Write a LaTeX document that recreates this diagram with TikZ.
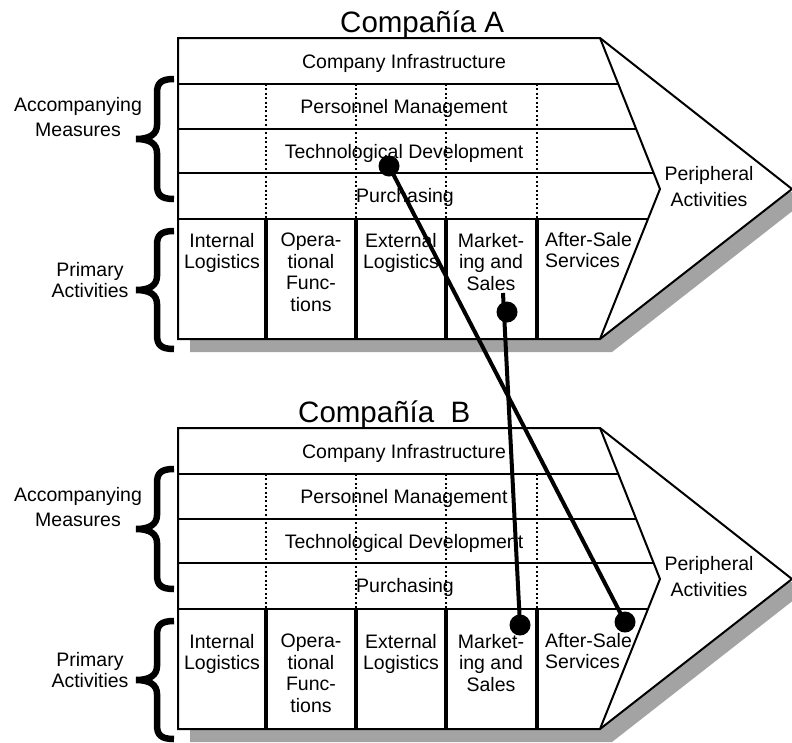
\documentclass[tikz,border=0pt]{standalone}
\usepackage{fontspec}
\setmainfont{Liberation Sans}
\definecolor{shadowgray}{gray}{0.64}
\tikzset{
  box/.style={line width=2pt},
  act/.style={line width=3.5pt},
  sep/.style={line width=2pt, dash pattern=on 2pt off 2.4pt},
  txt/.style={font=\fontsize{19.5}{21.5}\selectfont, inner sep=0pt, align=center},
  ttl/.style={font=\fontsize{29.5}{32}\selectfont, inner sep=0pt},
  dot/.style={circle, fill=black, inner sep=0pt, minimum size=21pt},
  link/.style={line width=4pt},
  curly/.style={line width=6.5pt},
}

\begin{document}
\begin{tikzpicture}[x=1pt, y=-1pt]
    \useasboundingbox (0,0) rectangle (792,742);

    % --- one value chain per company, B is A moved down ---
    \foreach \co/\dy/\tx/\ttext/\py in {A/0/340/{Compañía A}/0,
                                          B/390/298/{Compañía\ \ B}/11} {
      \begin{scope}[yshift=-\dy pt]
        % shadow, then the white arrow shape over it
        \fill[shadowgray] (190,51) -- (612,51) -- (804,202) -- (612,352) -- (190,352) -- cycle;
        \fill[white] (178,38) -- (600,38) -- (792,189) -- (600,339) -- (178,339) -- cycle;
        \draw[box] (178,38) -- (600,38) -- (792,189) -- (600,339) -- (178,339) -- cycle;
        \draw[box] (600,38) -- (660,189) -- (600,339);

        % support rows end on the slanted inner edge
        \foreach \y/\xe in {84/618, 129/636, 173/654, 219/648}
          \draw[box] (178,\y) -- (\xe,\y);
        \foreach \x in {266,356,446,537}
          \draw[sep] (\x,84) -- (\x,219);
        \foreach \x in {266,356,446,537}
          \draw[act] (\x,219) -- (\x,339);

        % left braces
        \foreach \t/\b in {79/199, 231/349} {
          \pgfmathsetmacro{\m}{(\t+\b)/2}
          \draw[curly] (174,\t) .. controls (161,\t) and (157,\t+4) .. (157,\t+14)
            -- (157,\m-14) .. controls (157,\m-5) and (150,\m) .. (136,\m)
            .. controls (150,\m) and (157,\m+5) .. (157,\m+14)
            -- (157,\b-14) .. controls (157,\b-4) and (161,\b) .. (174,\b);
        }

        \node[ttl, anchor=base west] (title\co) at (\tx,32) {\ttext};

        % support activities
        \node[txt, anchor=base] (infra\co) at (404,68) {Company Infrastructure};
        \node[txt, anchor=base] (staff\co) at (404,113) {Personnel Management};
        \node[txt, anchor=base] (tech\co) at (404,158) {Technological Development};
        \node[txt, anchor=base] (purch\co) at (405,202) {Purchasing};

        % primary activities
        \node[txt, anchor=north] (inlog\co) at (222,{233+\py}) {Internal\\Logistics};
        \node[txt, anchor=north] (oper\co) at (311,{233+\py}) {Opera-\\tional\\Func-\\tions};
        \node[txt, anchor=north] (outlog\co) at (401,{233+\py}) {External\\Logistics};
        \node[txt, anchor=north] (mkt\co) at (491,{233+\py}) {Market-\\ing and\\Sales};
        \node[txt, align=left, anchor=north west] (after\co) at (545,{232+\py}) {After-Sale\\Services};

        % side labels
        \node[txt, anchor=north] (accomp\co) at (78,97) {Accompanying\\[3.5pt]Measures};
        \node[txt, anchor=north] (primary\co) at (90,262) {Primary\\Activities};
        \node[txt, anchor=north] (periph\co) at (709,166) {Peripheral\\[5pt]Activities};
      \end{scope}
    }

    % --- links between the two chains ---
    \node[dot] (dotTechA) at (389,166) {};
    \node[dot] (dotMktA) at (507,312) {};
    \coordinate (mktTop) at (503,293);
    \node[dot] (dotMktB) at (520,625) {};
    \node[dot] (dotAftB) at (625,622) {};
    \draw[link] (dotTechA.center) -- (dotAftB.center);
    \draw[link] (mktTop) -- (dotMktB.center);
\end{tikzpicture}
\end{document}
